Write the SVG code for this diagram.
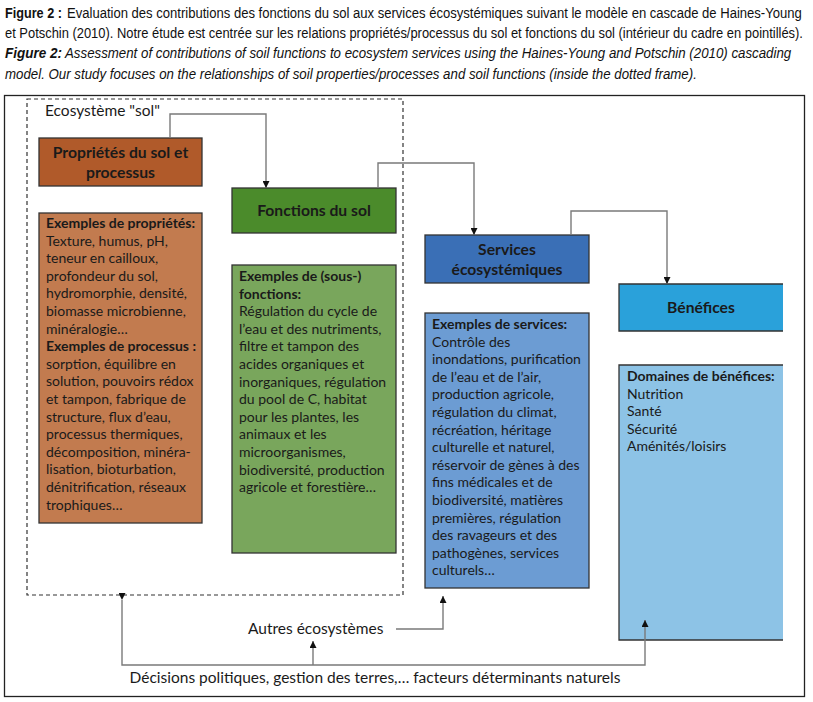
<svg xmlns="http://www.w3.org/2000/svg" width="813" height="702" viewBox="0 0 813 702">
<defs>
<marker id="arr" viewBox="0 0 10 10" refX="10" refY="5" markerWidth="7" markerHeight="7" markerUnits="userSpaceOnUse" orient="auto">
<path d="M0,0 L10,5 L0,10 Z" fill="#111"/>
</marker>
<style>
.cap{font-family:"Liberation Sans",Arial,sans-serif;font-size:15.5px;fill:#111}
.capb{font-weight:bold}
.capi{font-style:italic}
.hd{font-family:Lato,"Open Sans",sans-serif;font-size:15.7px;font-weight:bold;fill:#1a1a1a;text-anchor:middle}
.tx{font-family:Lato,"Open Sans",sans-serif;font-size:14px;fill:#1a1a1a}
.b{font-weight:bold}
.box{stroke:#333;stroke-width:1.3}
.con{fill:none;stroke:#7a7a7a;stroke-width:1.4}
.lab{font-family:Lato,"Open Sans",sans-serif;font-size:15.5px;fill:#1a1a1a}
</style>
</defs>
<rect width="813" height="702" fill="#fff"/>
<g id="caption">
<text class="cap capb" transform="translate(5,18) scale(0.78,1)" x="0" y="0" textLength="73" lengthAdjust="spacingAndGlyphs">Figure 2 :</text>
<text class="cap" transform="translate(67,18) scale(0.78,1)" x="0" y="0" textLength="942" lengthAdjust="spacingAndGlyphs">Evaluation des contributions des fonctions du sol aux services écosystémiques suivant le modèle en cascade de Haines-Young</text>
<text class="cap" transform="translate(5,38) scale(0.78,1)" x="0" y="0" textLength="1023" lengthAdjust="spacingAndGlyphs">et Potschin (2010). Notre étude est centrée sur les relations propriétés/processus du sol et fonctions du sol (intérieur du cadre en pointillés).</text>
<text class="cap capb capi" transform="translate(5,58) scale(0.78,1)" x="0" y="0" textLength="73" lengthAdjust="spacingAndGlyphs">Figure 2:</text>
<text class="cap capi" transform="translate(65,58) scale(0.78,1)" x="0" y="0" textLength="931" lengthAdjust="spacingAndGlyphs">Assessment of contributions of soil functions to ecosystem services using the Haines-Young and Potschin (2010) cascading</text>
<text class="cap capi" transform="translate(5,79) scale(0.78,1)" x="0" y="0" textLength="887" lengthAdjust="spacingAndGlyphs">model. Our study focuses on the relationships of soil properties/processes and soil functions (inside the dotted frame).</text>
</g>
<rect x="4.5" y="95.5" width="800" height="601" fill="none" stroke="#222" stroke-width="1.3"/>
<g id="soil-ecosystem">
<rect x="27" y="99" width="376" height="496" fill="none" stroke="#333" stroke-width="1.2" stroke-dasharray="4,3"/>
<text class="lab" x="45" y="116">Ecosystème "sol"</text>
</g>
<g id="proprietes">
<rect class="box" x="39" y="138" width="163" height="48" fill="#B05A2A"/>
<text class="hd" x="120.5" y="158">Propriétés du sol et</text>
<text class="hd" x="120.5" y="178">processus</text>
</g>
<g id="proprietes-exemples">
<rect class="box" x="39" y="213" width="163" height="310" fill="#C27B4F"/>
<text class="tx">
<tspan x="46" y="228" class="b">Exemples de propriétés:</tspan>
<tspan x="46" y="245.6">Texture, humus, pH,</tspan>
<tspan x="46" y="263.2">teneur en cailloux,</tspan>
<tspan x="46" y="280.8">profondeur du sol,</tspan>
<tspan x="46" y="298.4">hydromorphie, densité,</tspan>
<tspan x="46" y="316">biomasse microbienne,</tspan>
<tspan x="46" y="333.6">minéralogie…</tspan>
<tspan x="46" y="351.2" class="b">Exemples de processus :</tspan>
<tspan x="46" y="368.8">sorption, équilibre en</tspan>
<tspan x="46" y="386.4">solution,  pouvoirs rédox</tspan>
<tspan x="46" y="404">et tampon, fabrique de</tspan>
<tspan x="46" y="421.6">structure, flux d’eau,</tspan>
<tspan x="46" y="439.2">processus thermiques,</tspan>
<tspan x="46" y="456.8">décomposition, minéra-</tspan>
<tspan x="46" y="474.4">lisation, bioturbation,</tspan>
<tspan x="46" y="492">dénitrification, réseaux</tspan>
<tspan x="46" y="509.6">trophiques…</tspan>
</text>
</g>
<g id="fonctions">
<rect class="box" x="232" y="188" width="164" height="45" fill="#4B8B2B"/>
<text class="hd" x="314" y="216">Fonctions du sol</text>
</g>
<g id="fonctions-exemples">
<rect class="box" x="232" y="265" width="164" height="288" fill="#79A65C"/>
<text class="tx">
<tspan x="239" y="281" class="b">Exemples de (sous-)</tspan>
<tspan x="239" y="298.6" class="b">fonctions:</tspan>
<tspan x="239" y="316.2">Régulation du cycle de</tspan>
<tspan x="239" y="333.8">l’eau et des nutriments,</tspan>
<tspan x="239" y="351.4">filtre et tampon des</tspan>
<tspan x="239" y="369">acides organiques et</tspan>
<tspan x="239" y="386.6">inorganiques, régulation</tspan>
<tspan x="239" y="404.2">du pool de C, habitat</tspan>
<tspan x="239" y="421.8">pour les plantes, les</tspan>
<tspan x="239" y="439.4">animaux et les</tspan>
<tspan x="239" y="457">microorganismes,</tspan>
<tspan x="239" y="474.6">biodiversité, production</tspan>
<tspan x="239" y="492.2">agricole et forestière…</tspan>
</text>
</g>
<g id="services">
<rect class="box" x="425" y="235" width="164" height="48" fill="#3A6FB6"/>
<text class="hd" x="507" y="255">Services</text>
<text class="hd" x="507" y="275">écosystémiques</text>
</g>
<g id="services-exemples">
<rect class="box" x="425" y="313" width="164" height="275" fill="#6C9CD3"/>
<text class="tx">
<tspan x="432" y="329" class="b">Exemples de services:</tspan>
<tspan x="432" y="346.6">Contrôle des</tspan>
<tspan x="432" y="364.2">inondations, purification</tspan>
<tspan x="432" y="381.8">de l’eau et de l’air,</tspan>
<tspan x="432" y="399.4">production agricole,</tspan>
<tspan x="432" y="417">régulation du climat,</tspan>
<tspan x="432" y="434.6">récréation, héritage</tspan>
<tspan x="432" y="452.2">culturelle et naturel,</tspan>
<tspan x="432" y="469.8">réservoir de gènes à des</tspan>
<tspan x="432" y="487.4">fins médicales et de</tspan>
<tspan x="432" y="505">biodiversité, matières</tspan>
<tspan x="432" y="522.6">premières, régulation</tspan>
<tspan x="432" y="540.2">des ravageurs et des</tspan>
<tspan x="432" y="557.8">pathogènes, services</tspan>
<tspan x="432" y="575.4">culturels…</tspan>
</text>
</g>
<g id="benefices">
<rect x="619" y="284" width="164" height="47" fill="#2AA1DA"/>
<polyline points="783,284 619,284 619,331 783,331" fill="none" stroke="#333" stroke-width="1.3"/>
<text class="hd" x="701" y="313">Bénéfices</text>
</g>
<g id="benefices-exemples">
<rect x="619" y="365" width="164" height="275" fill="#8DC3E6"/>
<polyline points="783,365 619,365 619,640 783,640" fill="none" stroke="#333" stroke-width="1.3"/>
<text class="tx">
<tspan x="627" y="381" class="b">Domaines de bénéfices:</tspan>
<tspan x="627" y="398.6">Nutrition</tspan>
<tspan x="627" y="416.2">Santé</tspan>
<tspan x="627" y="433.8">Sécurité</tspan>
<tspan x="627" y="451.4">Aménités/loisirs</tspan>
</text>
</g>
<g id="autres">
<text class="lab" x="248" y="634">Autres écosystèmes</text>
</g>
<g id="decisions">
<text class="lab" x="375" y="683" text-anchor="middle">Décisions politiques, gestion des terres,… facteurs déterminants naturels</text>
</g>
<g id="connectors">
<polyline class="con" points="170,138 170,114 266,114 266,188" marker-end="url(#arr)"/>
<polyline class="con" points="378,188 378,163 474,163 474,235" marker-end="url(#arr)"/>
<polyline class="con" points="571,235 571,211 667,211 667,284" marker-end="url(#arr)"/>
<polyline class="con" points="396,629 443,629 443,596" marker-end="url(#arr)"/>
<polyline class="con" points="122,600 122,665 645,665 645,620" marker-start="url(#arr)" marker-end="url(#arr)"/>
<line class="con" x1="313" y1="665" x2="313" y2="641" marker-end="url(#arr)"/>
</g>
</svg>
